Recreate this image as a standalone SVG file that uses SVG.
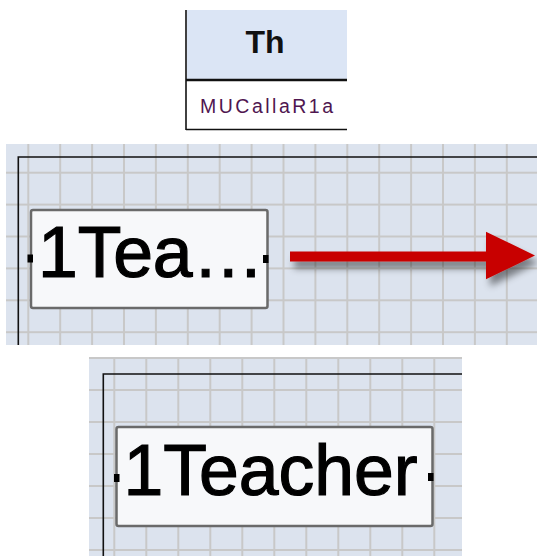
<svg xmlns="http://www.w3.org/2000/svg" width="537" height="556" viewBox="0 0 537 556">
  <defs>
    <pattern id="grid2" patternUnits="userSpaceOnUse" x="12.35" y="156.75" width="31.9" height="31.9">
      <rect width="31.9" height="31.9" fill="#dce3ee"/>
      <path d="M15.95 0V31.9M0 15.95H31.9" stroke="#c8c8c8" stroke-width="2" fill="none"/>
    </pattern>
    <pattern id="grid3" patternUnits="userSpaceOnUse" x="98.3" y="374" width="32" height="32">
      <rect width="32" height="32" fill="#dce3ee"/>
      <path d="M16 0V32M0 16H32" stroke="#c8c8c8" stroke-width="2" fill="none"/>
    </pattern>
    <filter id="shadow" x="-10%" y="-50%" width="130%" height="250%">
      <feDropShadow dx="4" dy="7" stdDeviation="3.5" flood-color="#000" flood-opacity="0.45"/>
    </filter>
    <style>
      .frame { stroke: #111; stroke-width: 1.6; fill: none; }
      .node { fill: #f7f8fa; stroke: #6a6a6a; stroke-width: 2.5; }
      .big { font-family: "Liberation Sans", Arial, sans-serif; font-size: 71.5px; fill: #000; stroke: #000; stroke-width: 1.2; }
      .dot { fill: #000; }
    </style>
  </defs>

  <rect width="537" height="556" fill="#ffffff"/>

  <!-- Panel 1: table header -->
  <g id="table">
    <rect x="187" y="10" width="160" height="70" fill="#dbe5f5"/>
    <line x1="186" y1="10" x2="186" y2="130" stroke="#111" stroke-width="1.6"/>
    <line x1="186" y1="80" x2="347" y2="80" stroke="#111" stroke-width="2.6"/>
    <line x1="186" y1="129.5" x2="347" y2="129.5" stroke="#111" stroke-width="1.6"/>
    <text x="265" y="53" text-anchor="middle" font-family="'Liberation Sans', Arial, sans-serif" font-weight="bold" font-size="32" fill="#111">Th</text>
    <text x="200" y="113.3" font-family="'Liberation Sans', Arial, sans-serif" font-size="19.5" fill="#4f1650" textLength="133" lengthAdjust="spacing">MUCallaR1a</text>
  </g>

  <!-- Panel 2 -->
  <g id="panel2">
    <rect x="6" y="144" width="531" height="201" fill="url(#grid2)"/>
    <path class="frame" d="M18.3 345V157H537"/>
  </g>
  <g id="node-tea">
    <rect class="node" x="31" y="210" width="236.5" height="98" rx="2"/>
    <text class="big" x="38" y="277.3" textLength="226" lengthAdjust="spacing">1Tea…</text>
    <rect class="dot" x="27.5" y="254.5" width="5.5" height="8"/>
    <rect class="dot" x="263" y="255" width="5.5" height="8"/>
  </g>
  <g id="connectors" filter="url(#shadow)">
    <path d="M290 251.5H487V261.5H290Z" fill="#c80000"/>
    <path d="M486 231.7L535 255.5L486 279.3Z" fill="#c80000"/>
  </g>

  <!-- Panel 3 -->
  <g id="panel3">
    <rect x="89" y="357" width="373" height="199" fill="url(#grid3)"/>
    <path class="frame" d="M103.3 556V374H462"/>
  </g>
  <g id="node-teacher">
    <rect class="node" x="116.5" y="427" width="316" height="99" rx="2"/>
    <text class="big" x="123.5" y="495">1Teacher</text>
    <rect class="dot" x="114" y="474" width="5.5" height="8"/>
    <rect class="dot" x="428" y="473" width="5.5" height="8"/>
  </g>
</svg>
